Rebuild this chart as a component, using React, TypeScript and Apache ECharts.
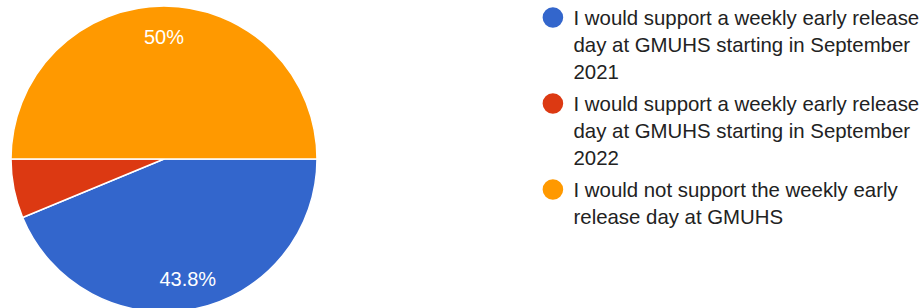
import React, { useEffect, useRef } from "react";
import * as echarts from "echarts";

const categories: string[] = [
  "I would support a weekly early release day at GMUHS starting in September 2021",
  "I would support a weekly early release day at GMUHS starting in September 2022",
  "I would not support the weekly early release day at GMUHS",
];
const responses: number[] = [7, 1, 8];
const colors: string[] = ["#3366CC", "#DC3912", "#FF9900"];

const FONT = "Arial, 'Liberation Sans', sans-serif";
const LINES = 3;
const LINE_H = 27;

function wrap(text: string, maxChars: number): string[] {
  const words = text.split(" ");
  const lines: string[] = [];
  let cur = "";
  for (const w of words) {
    const next = cur ? cur + " " + w : w;
    if (next.length > maxChars && cur) {
      lines.push(cur);
      cur = w;
    } else {
      cur = next;
    }
  }
  if (cur) lines.push(cur);
  return lines;
}

export default function App() {
  const ref = useRef<HTMLDivElement>(null);
  useEffect(() => {
    if (!ref.current) return;
    const chart = echarts.init(ref.current, null, { renderer: "svg" });
    const total = responses.reduce((a, b) => a + b, 0);
    const data = categories.map((name, i) => ({
      name,
      value: responses[i],
      itemStyle: { color: colors[i] },
    }));
    const iconW = 26;
    const iconH = LINES * LINE_H;
    const r = 10.3;
    const cx = 10.4;
    const cy = LINE_H / 2;
    const iconPath =
      `path://M${cx - r},${cy}A${r},${r},0,1,0,${cx + r},${cy}A${r},${r},0,1,0,${cx - r},${cy}Z` +
      `M0,0L0,0Z M${iconW},${iconH}L${iconW},${iconH}Z`;

    chart.setOption({
      animation: false,
      legend: {
        orient: "vertical",
        left: 542.5,
        top: 4,
        padding: 0,
        itemGap: 5,
        itemWidth: iconW,
        itemHeight: iconH,
        icon: iconPath,
        itemStyle: { borderWidth: 0 },
        data: categories,
        selectedMode: false,
        formatter: (name: string) => {
          const lines = wrap(name, 38);
          while (lines.length < LINES) lines.push(" ");
          return lines.join("\n");
        },
        textStyle: {
          color: "#222222",
          fontSize: 20.4,
          fontFamily: FONT,
          lineHeight: LINE_H,
        },
      },
      series: [
        {
          type: "pie",
          center: [164, 159],
          radius: [0, 153],
          startAngle: 0,
          clockwise: true,
          silent: true,
          label: { show: false },
          labelLine: { show: false },
          itemStyle: { borderColor: "#ffffff", borderWidth: 1.5 },
          data,
        },
        {
          type: "pie",
          center: [164, 159],
          radius: [85, 153],
          startAngle: 0,
          clockwise: true,
          silent: true,
          itemStyle: { color: "rgba(0,0,0,0)", borderWidth: 0 },
          labelLine: { show: false },
          label: {
            show: true,
            position: "inside",
            color: "#ffffff",
            fontSize: 20,
            fontFamily: FONT,
            formatter: (p: any) => {
              const pct = (p.value / total) * 100;
              if (pct < 10) return "";
              const s = (Math.round(pct * 10) / 10).toString();
              return s + "%";
            },
          },
          data: categories.map((name, i) => ({
            name,
            value: responses[i],
            itemStyle: { color: "rgba(0,0,0,0)" },
          })),
        },
      ],
    });
    return () => chart.dispose();
  }, []);
  return (
    <div
      ref={ref}
      style={{ position: "fixed", left: 0, top: 0, width: 924, height: 308, background: "#ffffff" }}
    />
  );
}
